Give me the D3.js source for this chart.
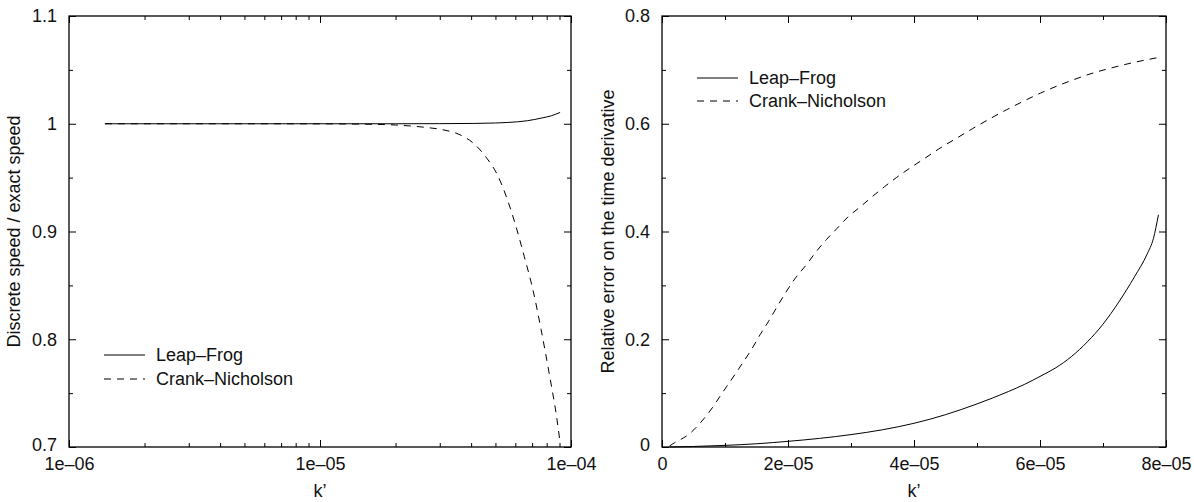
<!DOCTYPE html>
<html>
<head>
<meta charset="utf-8">
<script src="https://cdn.jsdelivr.net/npm/d3@7/dist/d3.min.js"></script>
<style>
  html, body { margin: 0; padding: 0; background: #fff; }
  svg { display: block; }
  text { font-family: "Liberation Sans", Arial, Helvetica, sans-serif; font-size: 18px; fill: #111; }
</style>
</head>
<body>
<svg id="chart" width="1194" height="502"></svg>
<script>
// ---- Left panel: ratio of discrete to exact propagation speed (log k') ----
const speedLeapFrogK = [1.39e-6, 3e-6, 1e-5, 2e-5, 3e-5, 4.1e-5, 5e-5, 5.6e-5, 6.7e-5, 7.6e-5, 8.35e-5, 9.05e-5];
const speedLeapFrog  = [1, 1, 1, 1, 1.0001, 1.0003, 1.0007, 1.0012, 1.0028, 1.0052, 1.0074, 1.0105];

const speedCrankK = [1.39e-6, 3e-6, 1e-5, 1.5e-5, 2e-5, 2.64e-5, 3.09e-5, 3.61e-5, 4.08e-5, 4.62e-5, 5.08e-5,
                     5.57e-5, 6.03e-5, 6.51e-5, 7.05e-5, 7.6e-5, 8.22e-5, 8.75e-5, 9.05e-5];
const speedCrank  = [1, 1, 0.9999, 0.9996, 0.9988, 0.9966, 0.9944, 0.9898, 0.982, 0.968, 0.953,
                     0.930, 0.905, 0.877, 0.846, 0.809, 0.766, 0.729, 0.704];

const speedXTicks = [1e-6, 1e-5, 1e-4];
const speedXTickLabels = ["1e\u201306", "1e\u201305", "1e\u201304"];
const speedYTicks = [0.7, 0.8, 0.9, 1.0, 1.1];
const speedYTickLabels = ["0.7", "0.8", "0.9", "1", "1.1"];
const speedYMinor = [0.75, 0.85, 0.95, 1.05];

// ---- Right panel: relative error on the time derivative (linear k') ----
const errLeapFrogK = [1.2e-6, 5e-6, 1e-5, 1.5e-5, 2e-5, 2.5e-5, 3e-5, 3.5e-5, 4e-5, 4.5e-5, 5e-5, 5.5e-5,
                      5.75e-5, 6e-5, 6.25e-5, 6.5e-5, 6.75e-5, 7e-5, 7.25e-5, 7.5e-5, 7.7e-5, 7.8e-5, 7.88e-5];
const errLeapFrog  = [0.0, 0.001, 0.003, 0.006, 0.0105, 0.016, 0.023, 0.032, 0.044, 0.060, 0.080, 0.103,
                      0.116, 0.131, 0.147, 0.168, 0.195, 0.228, 0.269, 0.316, 0.358, 0.387, 0.431];

const errCrankK = [1.2e-6, 2e-6, 4.2e-6, 6.1e-6, 8e-6, 9.6e-6, 1.12e-5, 1.28e-5, 1.42e-5, 1.56e-5, 1.69e-5,
                   1.83e-5, 1.96e-5, 2.12e-5, 2.29e-5, 2.45e-5, 2.61e-5, 2.78e-5, 2.96e-5, 3.15e-5, 3.34e-5,
                   3.53e-5, 3.72e-5, 3.94e-5, 4.16e-5, 4.39e-5, 4.66e-5, 4.93e-5, 5.2e-5, 5.47e-5, 5.74e-5,
                   6.01e-5, 6.27e-5, 6.54e-5, 6.81e-5, 7.08e-5, 7.35e-5, 7.62e-5, 7.88e-5];
const errCrank  = [0.002, 0.008, 0.023, 0.045, 0.073, 0.101, 0.128, 0.156, 0.181, 0.209, 0.233,
                   0.261, 0.286, 0.314, 0.338, 0.363, 0.385, 0.406, 0.428, 0.446, 0.465,
                   0.483, 0.500, 0.518, 0.535, 0.553, 0.572, 0.591, 0.609, 0.626, 0.642,
                   0.657, 0.670, 0.682, 0.693, 0.702, 0.710, 0.717, 0.723];

const errXTicks = [0, 2e-5, 4e-5, 6e-5, 8e-5];
const errXTickLabels = ["0", "2e\u201305", "4e\u201305", "6e\u201305", "8e\u201305"];
const errXMinor = [1e-5, 3e-5, 5e-5, 7e-5];
const errYTicks = [0, 0.2, 0.4, 0.6, 0.8];
const errYTickLabels = ["0", "0.2", "0.4", "0.6", "0.8"];
const errYMinor = [0.1, 0.3, 0.5, 0.7];

const seriesNames = ["Leap\u2013Frog", "Crank\u2013Nicholson"];
const xTitle = "k\u2019";

const svg = d3.select("#chart");
const MAJOR = 7, MINOR = 4, DASH = "7,6";

function zip(xs, ys) { return xs.map((x, i) => [x, ys[i]]); }

function panel(opt) {
  const { x, y, top, bottom, left, right } = opt;
  const g = svg.append("g");

  // inward ticks on all four sides
  const fmt = (vals, labels) => d => labels[vals.indexOf(d)];
  const addAxis = (axis, tx, ty, cls) => {
    const a = g.append("g").attr("class", cls).attr("transform", `translate(${tx},${ty})`).call(axis);
    a.select(".domain").remove();
    a.selectAll("line").attr("stroke", "#000").attr("stroke-width", 1);
    return a;
  };

  addAxis(d3.axisBottom(x).tickValues(opt.xTicks).tickSize(-MAJOR).tickPadding(10)
            .tickFormat(fmt(opt.xTicks, opt.xLabels)), 0, bottom, "xb");
  addAxis(d3.axisBottom(x).tickValues(opt.xMinor).tickSize(-MINOR).tickFormat(""), 0, bottom, "xbm");
  addAxis(d3.axisTop(x).tickValues(opt.xTicks).tickSize(-MAJOR).tickFormat(""), 0, top, "xt");
  addAxis(d3.axisTop(x).tickValues(opt.xMinor).tickSize(-MINOR).tickFormat(""), 0, top, "xtm");
  addAxis(d3.axisLeft(y).tickValues(opt.yTicks).tickSize(-MAJOR).tickPadding(12)
            .tickFormat(fmt(opt.yTicks, opt.yLabels)), left, 0, "yl");
  addAxis(d3.axisLeft(y).tickValues(opt.yMinor).tickSize(-MINOR).tickFormat(""), left, 0, "ylm");
  addAxis(d3.axisRight(y).tickValues(opt.yTicks).tickSize(-MAJOR).tickFormat(""), right, 0, "yr");
  addAxis(d3.axisRight(y).tickValues(opt.yMinor).tickSize(-MINOR).tickFormat(""), right, 0, "yrm");

  g.selectAll(".tick text")
    .style("font-family", "'Liberation Sans', Arial, Helvetica, sans-serif")
    .style("font-size", "18px").attr("fill", "#111");

  // the lowest y label sits just above the first x label, as in gnuplot output
  g.select(".yl .tick text").attr("dy", "0.2em");

  // frame
  g.append("rect").attr("x", left).attr("y", top)
    .attr("width", right - left).attr("height", bottom - top)
    .attr("fill", "none").attr("stroke", "#000").attr("stroke-width", 1.3);

  // curves
  const line = d3.line().x(d => x(d[0])).y(d => y(d[1])).curve(d3.curveMonotoneX);
  g.append("path").datum(opt.solid).attr("d", line)
    .attr("fill", "none").attr("stroke", "#000").attr("stroke-width", 1);
  g.append("path").datum(opt.dashed).attr("d", line)
    .attr("fill", "none").attr("stroke", "#000").attr("stroke-width", 1)
    .attr("stroke-dasharray", DASH);

  // legend
  const lg = g.append("g").attr("transform", `translate(${left + 35},${opt.legendY})`);
  seriesNames.forEach((name, i) => {
    const yy = i * opt.legendGap;
    lg.append("line").attr("x1", 0).attr("x2", 41).attr("y1", yy).attr("y2", yy)
      .attr("stroke", "#000").attr("stroke-width", 1)
      .attr("stroke-dasharray", i === 1 ? DASH : null);
    lg.append("text").attr("x", 52).attr("y", yy).attr("dy", "0.35em").text(name);
  });

  // axis titles
  g.append("text").attr("x", (left + right) / 2).attr("y", 497)
    .attr("text-anchor", "middle").text(xTitle);
  g.append("text")
    .attr("transform", `translate(${opt.yTitleX},${(top + bottom) / 2}) rotate(-90)`)
    .attr("text-anchor", "middle").text(opt.yTitle);
}

panel({
  x: d3.scaleLog().domain([1e-6, 1e-4]).range([69, 571]),
  y: d3.scaleLinear().domain([0.7, 1.1]).range([447, 16]),
  left: 69, right: 571, top: 16, bottom: 447,
  xTicks: speedXTicks, xLabels: speedXTickLabels,
  xMinor: [2,3,4,5,6,7,8,9].flatMap(m => [m * 1e-6, m * 1e-5]),
  yTicks: speedYTicks, yLabels: speedYTickLabels, yMinor: speedYMinor,
  solid: zip(speedLeapFrogK, speedLeapFrog),
  dashed: zip(speedCrankK, speedCrank),
  legendY: 355, legendGap: 24,
  yTitle: "Discrete speed / exact speed", yTitleX: 20
});

panel({
  x: d3.scaleLinear().domain([0, 8e-5]).range([662, 1166]),
  y: d3.scaleLinear().domain([0, 0.8]).range([447, 16]),
  left: 662, right: 1166, top: 16, bottom: 447,
  xTicks: errXTicks, xLabels: errXTickLabels, xMinor: errXMinor,
  yTicks: errYTicks, yLabels: errYTickLabels, yMinor: errYMinor,
  solid: zip(errLeapFrogK, errLeapFrog),
  dashed: zip(errCrankK, errCrank),
  legendY: 78, legendGap: 23,
  yTitle: "Relative error on the time derivative", yTitleX: 614
});
</script>
</body>
</html>
